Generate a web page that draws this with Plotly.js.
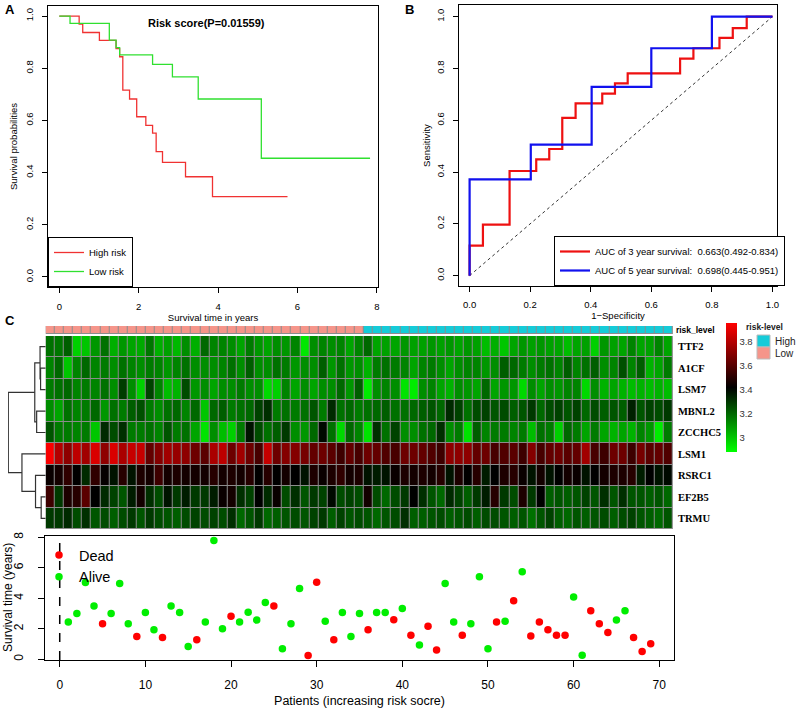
<!DOCTYPE html>
<html><head><meta charset="utf-8">
<script src="https://cdn.plot.ly/plotly-3.0.1.min.js"></script>
<style>html,body{margin:0;padding:0;background:#fff}#chart{width:800px;height:710px}</style>
</head><body><div id="chart"></div>
<script>
// ---------- Panel A : Kaplan-Meier ----------
const kmHighTime = [0,0.50,0.59,1.01,1.43,1.52,1.60,1.77,1.95,2.18,2.35,2.44,2.60,3.18,3.86,5.75];
const kmHighSurv = [1,0.969,0.937,0.907,0.875,0.844,0.716,0.682,0.614,0.581,0.551,0.48,0.439,0.384,0.308,0.308];
const kmLowTime  = [0,0.27,1.26,1.43,1.52,2.35,2.85,3.50,5.09,7.83];
const kmLowSurv  = [1,0.972,0.908,0.879,0.851,0.815,0.767,0.682,0.455,0.455];
const kmTitle = 'Risk score(P=0.01559)';

// ---------- Panel B : ROC ----------
const roc3X = [0,0,0.044,0.132,0.22,0.263,0.306,0.35,0.438,0.48,0.522,0.695,0.739,0.825,0.869,0.915,1];
const roc3Y = [0,0.116,0.197,0.404,0.449,0.489,0.609,0.665,0.703,0.742,0.781,0.838,0.878,0.918,0.956,1,1];
const roc5X = [0,0,0.202,0.403,0.60,0.80,1];
const roc5Y = [0,0.372,0.506,0.729,0.878,1,1];
const rocDiagX = [0,1], rocDiagY = [0,1];
const roc3Label = 'AUC of 3 year survival:\u00a0 0.663(0.492-0.834)';
const roc5Label = 'AUC of 5 year survival:\u00a0 0.698(0.445-0.951)';

// ---------- Panel C : heatmap ----------
const genes = ['TTF2','A1CF','LSM7','MBNL2','ZCCHC5','LSM1','RSRC1','EF2B5','TRMU'];
const exprTTF2 = [3.18,3.17,3.22,2.98,3.0,3.1,3.18,3.05,3.1,3.07,3.06,3.17,3.05,3.08,3.03,3.12,3.05,
  3.2,3.14,3.14,3.12,3.07,3.16,3.1,3.07,3.12,3.1,3.14,2.93,3.12,3.14,3.12,3.14,3.07,3.14,
  3.2,3.07,3.08,3.07,3.1,3.08,3.08,3.1,3.08,3.1,3.07,3.1,3.08,3.02,3.05,3.0,
  3.07,3.1,3.08,3.1,3.08,3.07,3.02,3.07,3.08,2.98,3.1,3.08,3.07,3.14,3.07,3.08,3.14,3.07];
const exprA1CF = [3.14,3.2,3.0,3.14,3.2,3.14,3.16,3.12,3.18,3.14,3.12,3.16,3.14,3.1,3.14,3.18,3.12,
  3.12,3.12,3.14,3.18,3.12,3.22,3.12,3.12,3.18,3.16,3.1,3.12,3.12,3.22,3.1,3.18,3.1,3.12,
  3.04,3.16,3.18,3.16,3.14,3.07,3.14,3.16,3.12,3.07,3.12,3.14,3.14,3.1,3.12,3.22,
  3.2,3.16,3.12,3.16,3.18,3.14,3.22,3.14,3.18,3.22,3.12,3.14,3.25,3.14,3.22,3.04,3.07,3.16];
const exprLSM7 = [3.16,3.18,3.2,3.14,3.16,3.14,3.18,3.12,3.29,3.12,2.98,3.28,3.14,3.02,3.04,3.26,3.1,
  3.12,3.07,3.12,3.12,3.16,3.12,3.12,2.96,2.98,3.14,3.07,3.12,3.07,3.12,3.12,3.2,3.1,3.22,
  2.92,3.12,3.14,3.12,2.94,2.92,3.12,3.14,3.07,3.04,3.12,3.1,3.07,3.2,3.07,3.1,
  3.1,2.96,3.12,3.07,3.12,3.1,3.14,3.14,2.96,3.12,3.04,3.07,3.04,3.02,3.04,3.02,3.04,3.02];
const exprMBNL2 = [3.12,3.07,3.18,3.14,3.16,3.2,3.1,3.18,3.16,3.22,3.25,3.16,3.12,3.18,3.2,3.14,3.2,
  3.0,3.2,3.22,3.16,3.18,3.2,3.28,3.32,3.16,3.18,3.16,3.18,3.24,3.16,3.33,3.18,3.2,3.16,
  3.18,3.2,3.22,3.18,3.18,3.2,3.22,3.24,3.2,3.33,3.28,3.18,3.26,3.28,3.24,3.26,
  3.22,3.24,3.3,3.2,3.26,3.28,3.24,3.28,3.2,3.26,3.22,3.24,3.22,3.35,3.24,3.28,3.26,3.3];
const exprZCCHC5 = [3.24,3.16,3.16,3.14,3.16,3.0,3.33,3.26,3.32,3.16,3.16,3.18,3.14,3.24,3.16,3.18,3.07,
  2.94,3.12,3.02,2.98,3.16,3.38,3.26,3.18,3.22,3.3,3.12,3.1,3.2,3.4,3.18,2.96,3.2,3.14,
  2.94,3.32,3.18,3.28,3.12,3.12,3.18,3.2,3.32,3.12,3.16,2.94,3.22,3.14,3.16,3.16,
  3.14,3.16,3.02,3.18,3.16,2.98,3.2,3.16,3.07,3.16,3.07,3.04,3.07,3.04,3.14,3.1,2.92,3.16];
const exprLSM1 = [3.95,3.8,3.72,3.82,3.76,3.88,3.72,3.88,3.78,3.84,3.84,3.63,3.7,3.76,3.74,3.72,3.65,
  3.61,3.78,3.82,3.65,3.76,3.65,3.57,3.84,3.65,3.7,3.7,3.67,3.63,3.65,3.61,3.55,3.63,3.57,
  3.65,3.63,3.59,3.57,3.65,3.65,3.63,3.59,3.55,3.72,3.72,3.72,3.63,3.65,3.57,3.59,
  3.61,3.55,3.7,3.57,3.63,3.65,3.61,3.63,3.76,3.57,3.55,3.65,3.65,3.55,3.67,3.61,3.63,3.59];
const exprRSRC1 = [3.44,3.46,3.52,3.42,3.33,3.52,3.43,3.38,3.5,3.38,3.48,3.46,3.55,3.46,3.48,3.46,3.46,
  3.46,3.5,3.46,3.48,3.46,3.5,3.42,3.5,3.42,3.46,3.42,3.38,3.48,3.44,3.48,3.52,3.46,3.48,
  3.38,3.36,3.38,3.44,3.48,3.46,3.48,3.46,3.5,3.38,3.48,3.42,3.5,3.36,3.42,3.48,
  3.5,3.44,3.38,3.46,3.38,3.42,3.46,3.44,3.38,3.42,3.46,3.48,3.48,3.5,3.36,3.42,3.38,3.4];
const exprEF2B5 = [3.55,3.3,3.48,3.5,3.61,3.42,3.33,3.28,3.24,3.36,3.46,3.32,3.26,3.38,3.3,3.36,3.3,
  3.3,3.36,3.44,3.46,3.32,3.28,3.42,3.33,3.44,3.26,3.32,3.24,3.3,3.28,3.4,3.26,3.28,3.26,
  3.46,3.26,3.2,3.26,3.3,3.42,3.32,3.24,3.2,3.33,3.28,3.22,3.3,3.36,3.5,3.3,
  3.26,3.48,3.3,3.42,3.22,3.24,3.22,3.24,3.28,3.24,3.32,3.24,3.32,3.24,3.24,3.22,3.24,3.2];
const exprTRMU = [3.3,3.3,3.33,3.26,3.32,3.24,3.26,3.22,3.26,3.3,3.24,3.3,3.26,3.24,3.22,3.26,3.28,
  3.26,3.28,3.26,3.32,3.2,3.24,3.3,3.2,3.22,3.24,3.26,3.24,3.28,3.3,3.22,3.28,3.24,3.26,
  3.24,3.2,3.24,3.26,3.32,3.22,3.22,3.24,3.26,3.22,3.24,3.26,3.22,3.26,3.26,3.24,
  3.22,3.24,3.18,3.24,3.28,3.22,3.2,3.24,3.22,3.24,3.26,3.22,3.26,3.28,3.24,3.22,3.2,3.24];
const riskLevel = Array(35).fill('Low').concat(Array(34).fill('High'));
const riskLevels = ['High', 'Low'];
const riskColors = ['#15cbd8', '#f5958a'];
const colorTicks = [3, 3.2, 3.4, 3.6, 3.8];
// row dendrogram (hclust-style merge table: negative = leaf row, positive = earlier merge)
const dendroMerge  = [[-2,-3],[-1,1],[-4,-5],[2,3],[-8,-9],[-7,5],[-6,6],[4,7]];
const dendroHeight = [0.68,0.75,1.2,1.45,0.6,1.35,3.15,4.96];

// ---------- Panel C : risk scatter ----------
const survTime = [2.43,3.0,5.03,3.48,2.32,3.0,4.96,2.32,1.49,3.06,1.92,1.42,3.48,3.06,0.83,1.27,2.43,7.78,1.99,2.82,
  2.43,3.08,2.56,3.72,3.48,0.68,2.32,4.63,0.24,5.05,2.49,1.27,3.06,1.49,3.0,1.92,3.06,3.06,2.58,3.32,
  1.57,0.92,2.16,0.59,4.96,2.43,1.57,2.32,5.4,0.68,2.43,2.49,3.83,5.73,1.51,2.43,1.92,1.57,1.57,4.07,
  0.26,3.17,2.32,1.75,2.56,3.17,1.42,0.5,1.0];
const status = [0,0,0,0,1,0,0,0,1,0,0,1,0,0,0,1,0,0,0,1,
  0,0,0,0,1,0,0,0,1,1,0,1,0,0,0,1,0,0,1,0,
  1,0,1,1,0,0,1,0,0,0,1,0,1,0,1,1,1,1,1,0,
  0,1,1,1,0,0,1,1,1];
const cutoffX = 0;

// ---------- helpers ----------
const W = 800, H = 710;
const dx = (a, b) => [a / W, b / W];
const dy = (top, bottom) => [1 - bottom / H, 1 - top / H];
const px = v => v / W, py = v => 1 - v / H;
const FONT = 'Liberation Sans, Arial, Helvetica, sans-serif';
const SERIF = 'Liberation Serif, Times New Roman, serif';

const exprMatrix = [exprTTF2, exprA1CF, exprLSM7, exprMBNL2, exprZCCHC5, exprLSM1, exprRSRC1, exprEF2B5, exprTRMU];
const patientIdx = survTime.map((_, i) => i + 1);
const rows = genes.map((_, i) => i);

// dendrogram segments
const dXs = [], dYs = [];
(function () {
  const nY = [], nH = [];
  const pos = k => k < 0 ? { y: -k - 1, h: 0 } : { y: nY[k - 1], h: nH[k - 1] };
  dendroMerge.forEach((m, i) => {
    const a = pos(m[0]), b = pos(m[1]), h = dendroHeight[i];
    dXs.push(a.h, h, h, b.h, null);
    dYs.push(a.y, a.y, b.y, b.y, null);
    nY.push((a.y + b.y) / 2); nH.push(h);
  });
})();

const traces = [
  // A
  { type: 'scatter', mode: 'lines', x: kmHighTime, y: kmHighSurv, line: { shape: 'hv', color: '#f03232', width: 1.3 },
    name: 'High risk', xaxis: 'x', yaxis: 'y', legend: 'legend' },
  { type: 'scatter', mode: 'lines', x: kmLowTime, y: kmLowSurv, line: { shape: 'hv', color: '#30e030', width: 1.3 },
    name: 'Low risk', xaxis: 'x', yaxis: 'y', legend: 'legend' },
  // B
  { type: 'scatter', mode: 'lines', x: rocDiagX, y: rocDiagY, line: { color: '#333', width: 1, dash: 'dot' },
    showlegend: false, xaxis: 'x2', yaxis: 'y2' },
  { type: 'scatter', mode: 'lines', x: roc3X, y: roc3Y, line: { shape: 'hv', color: '#ee1111', width: 2.2 },
    name: roc3Label, xaxis: 'x2', yaxis: 'y2', legend: 'legend2' },
  { type: 'scatter', mode: 'lines', x: roc5X, y: roc5Y, line: { shape: 'hv', color: '#1111ee', width: 2.2 },
    name: roc5Label, xaxis: 'x2', yaxis: 'y2', legend: 'legend2' },
  // C heatmap
  { type: 'heatmap', x: patientIdx, y: rows, z: exprMatrix, xaxis: 'x3', yaxis: 'y3',
    colorscale: [[0, '#00ff00'], [0.5, '#000000'], [1, '#ff0000']], zmin: 2.88, zmax: 3.96,
    xgap: 1, ygap: 1, hoverongaps: false,
    colorbar: { x: 726 / W, xanchor: 'left', y: 1 - 323 / H, yanchor: 'top', thickness: 11, thicknessmode: 'pixels',
      len: 129, lenmode: 'pixels', outlinewidth: 0, xpad: 0, ypad: 0, ticks: '',
      tickvals: colorTicks, ticktext: colorTicks.map(String), tickfont: { size: 9.5, color: '#333', family: FONT } } },
  { type: 'heatmap', x: patientIdx, y: [0], z: [riskLevel.map(r => r === 'High' ? 1 : 0)], xaxis: 'x3', yaxis: 'y4',
    colorscale: [[0, riskColors[1]], [0.5, riskColors[1]], [0.5, riskColors[0]], [1, riskColors[0]]], zmin: 0, zmax: 1,
    showscale: false, xgap: 1, ygap: 1 },
  { type: 'scatter', mode: 'lines', x: dXs, y: dYs, xaxis: 'x5', yaxis: 'y5', showlegend: false,
    line: { color: '#333', width: 1.2 }, connectgaps: false },
  // risk scatter
  { type: 'scatter', mode: 'markers', x: patientIdx.filter((_, i) => status[i] === 1), y: survTime.filter((_, i) => status[i] === 1),
    name: 'Dead', marker: { color: '#ff0000', size: 7.5 }, xaxis: 'x6', yaxis: 'y6', legend: 'legend3' },
  { type: 'scatter', mode: 'markers', x: patientIdx.filter((_, i) => status[i] === 0), y: survTime.filter((_, i) => status[i] === 0),
    name: 'Alive', marker: { color: '#00ee00', size: 7.5 }, xaxis: 'x6', yaxis: 'y6', legend: 'legend3' }
];

const boxAxis = (extra) => Object.assign({ showline: true, mirror: true, linecolor: '#000', linewidth: 1,
  ticks: 'outside', ticklen: 5, tickcolor: '#000', tickwidth: 1, showgrid: false, zeroline: false,
  tickfont: { size: 9.5, family: FONT, color: '#000' } }, extra);

// risk-level key (legend of the annotation bar)
const keyShapes = riskLevels.map((lv, i) => ({ type: 'rect', xref: 'paper', yref: 'paper',
  x0: px(757), x1: px(770), y0: py(335 + 12 * (i + 1)), y1: py(335 + 12 * i),
  fillcolor: riskColors[i], line: { color: '#bbbbbb', width: 1 } }));
const keyTexts = riskLevels.map((lv, i) => ({ text: lv, xref: 'paper', yref: 'paper', x: px(773), y: py(341 + 12 * i),
  xanchor: 'left', yanchor: 'middle', showarrow: false, font: { size: 10, color: '#222' } }));

const layout = {
  width: W, height: H, margin: { l: 0, r: 0, t: 0, b: 0 }, paper_bgcolor: '#fff', plot_bgcolor: 'rgba(0,0,0,0)',
  font: { family: FONT, color: '#000' },
  xaxis: boxAxis({ domain: dx(48, 378), range: [-0.285, 8.03], tickvals: [0, 2, 4, 6, 8], anchor: 'y', ticklabelstandoff: 5,
    title: { text: 'Survival time in years', font: { size: 9.5 }, standoff: 1 } }),
  yaxis: boxAxis({ domain: dy(5.6, 287.4), range: [-0.04, 1.04], tickvals: [0, 0.2, 0.4, 0.6, 0.8, 1], anchor: 'x',
    ticktext: ['0.0', '0.2', '0.4', '0.6', '0.8', '1.0'], tickangle: -90, ticklabelstandoff: 5,
    title: { text: 'Survival probabilities', font: { size: 9.5 }, standoff: 4 } }),
  xaxis2: boxAxis({ domain: dx(459, 777), range: [-0.035, 1.015], tickvals: [0, 0.2, 0.4, 0.6, 0.8, 1], anchor: 'y2',
    ticktext: ['0.0', '0.2', '0.4', '0.6', '0.8', '1.0'], ticklabelstandoff: 5,
    title: { text: '1\u2212Specificity', font: { size: 9.5 }, standoff: 1 } }),
  yaxis2: boxAxis({ domain: dy(5, 286), range: [-0.04, 1.045], tickvals: [0, 0.2, 0.4, 0.6, 0.8, 1], anchor: 'x2',
    ticktext: ['0.0', '0.2', '0.4', '0.6', '0.8', '1.0'], tickangle: -90, ticklabelstandoff: 5,
    title: { text: 'Sensitivity', font: { size: 9.5 }, standoff: 2 } }),
  xaxis3: { domain: dx(45.7, 672.9), range: [0.5, 69.5], visible: false, anchor: 'y3', fixedrange: true },
  yaxis3: { domain: dy(336, 529), range: [8.5, -0.5], anchor: 'x3', side: 'right', tickvals: rows, ticktext: genes,
    ticks: '', showline: false, showgrid: false, zeroline: false, ticklabelstandoff: 4,
    tickfont: { family: SERIF, size: 10.5, weight: 'bold', color: '#000' } },
  yaxis4: { domain: dy(326, 334), range: [-0.5, 0.5], anchor: 'x3', side: 'right', tickvals: [0], ticktext: ['risk_level'],
    ticks: '', showline: false, showgrid: false, zeroline: false, ticklabelstandoff: 2,
    tickfont: { family: FONT, size: 8.5, weight: 'bold', color: '#000' } },
  xaxis5: { domain: dx(8, 45.7), range: [5.0, 0], visible: false, anchor: 'y5' },
  yaxis5: { domain: dy(336, 529), range: [8.5, -0.5], visible: false, anchor: 'x5' },
  xaxis6: boxAxis({ domain: dx(45, 674), range: [-1.72, 71.72], tickvals: [0, 10, 20, 30, 40, 50, 60, 70], anchor: 'y6',
    tickfont: { size: 12, family: FONT, color: '#000' }, ticklen: 6, ticklabelstandoff: 8,
    title: { text: 'Patients (increasing risk socre)', font: { size: 12.5 }, standoff: 4 } }),
  yaxis6: boxAxis({ domain: dy(536, 660), range: [-0.06, 8.08], tickvals: [0, 2, 4, 6, 8], anchor: 'x6', tickangle: -90,
    tickfont: { size: 12, family: FONT, color: '#000' }, ticklen: 6, ticklabelstandoff: 10 }),
  legend: { x: 48 / W, y: 1 - 287 / H, xanchor: 'left', yanchor: 'bottom', bordercolor: '#000', borderwidth: 1,
    bgcolor: '#fff', font: { size: 9.5 }, tracegroupgap: 0, itemwidth: 30 },
  legend2: { x: 785 / W, y: 1 - 286 / H, xanchor: 'right', yanchor: 'bottom', bordercolor: '#000', borderwidth: 1,
    bgcolor: '#fff', font: { size: 9.5 }, tracegroupgap: 0, itemwidth: 30 },
  legend3: { x: 39 / W, y: 1 - 539 / H, xanchor: 'left', yanchor: 'top', bgcolor: 'rgba(0,0,0,0)', borderwidth: 0,
    font: { size: 14.5 }, tracegroupgap: 0, itemwidth: 30 },
  shapes: [
    { type: 'rect', xref: 'x3 domain', yref: 'y3 domain', x0: 0, x1: 1, y0: 0, y1: 1, fillcolor: '#8c8c8c',
      line: { width: 0 }, layer: 'below' },
    { type: 'rect', xref: 'x3 domain', yref: 'y4 domain', x0: 0, x1: 1, y0: 0, y1: 1, fillcolor: '#8c8c8c',
      line: { width: 0 }, layer: 'below' },
    { type: 'line', xref: 'x6', yref: 'y6 domain', x0: cutoffX, x1: cutoffX, y0: 0, y1: 1,
      line: { color: '#000', width: 1.5, dash: 'dash' } }
  ].concat(keyShapes),
  annotations: [
    { text: '<b>A</b>', xref: 'paper', yref: 'paper', x: px(3), y: py(10), xanchor: 'left', yanchor: 'middle', showarrow: false, font: { size: 13 } },
    { text: '<b>B</b>', xref: 'paper', yref: 'paper', x: px(403), y: py(10), xanchor: 'left', yanchor: 'middle', showarrow: false, font: { size: 13 } },
    { text: '<b>C</b>', xref: 'paper', yref: 'paper', x: px(3), y: py(320), xanchor: 'left', yanchor: 'middle', showarrow: false, font: { size: 13 } },
    { text: '<b>' + kmTitle + '</b>', xref: 'paper', yref: 'paper', x: px(206), y: py(23), xanchor: 'center', yanchor: 'middle', showarrow: false, font: { size: 11 } },
    { text: 'Survival time (years)', xref: 'paper', yref: 'paper', x: px(8), y: py(598), xanchor: 'center', yanchor: 'middle',
      textangle: -90, showarrow: false, font: { size: 12 } },
    { text: '<b>risk-level</b>', xref: 'paper', yref: 'paper', x: px(744), y: py(327), xanchor: 'left', yanchor: 'middle',
      showarrow: false, font: { size: 8.5, color: '#222' } }
  ].concat(keyTexts)
};

Plotly.newPlot('chart', traces, layout, { displayModeBar: false, staticPlot: true });
</script></body></html>
